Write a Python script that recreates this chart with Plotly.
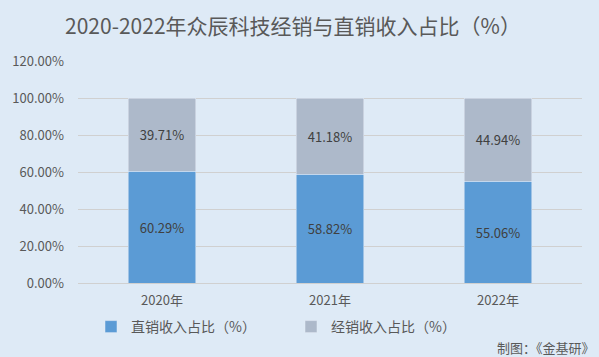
import plotly.graph_objects as go

years = ["2020年", "2021年", "2022年"]
direct = [60.29, 58.82, 55.06]
dealer = [39.71, 41.18, 44.94]
tick_vals = [0, 20, 40, 60, 80, 100, 120]
tick_text = ["0.00%", "20.00%", "40.00%", "60.00%", "80.00%", "100.00%", "120.00%"]

font_family = "Noto Sans CJK SC"
txt = "#595959"

fig = go.Figure()
fig.add_bar(x=years, y=direct, name="直销收入占比（%）", marker_color="#5b9bd5",
            text=[f"{v:.2f}%" for v in direct], textposition="inside", insidetextanchor="middle",
            textfont=dict(color="#404040", size=13))
fig.add_bar(x=years, y=dealer, name="经销收入占比（%）", marker_color="#adb9ca",
            text=[f"{v:.2f}%" for v in dealer], textposition="inside", insidetextanchor="middle",
            textfont=dict(color="#404040", size=13))

fig.update_layout(
    barmode="stack", bargap=0.6,
    width=599, height=357,
    margin=dict(l=78, r=17, t=61, b=74, autoexpand=False),
    paper_bgcolor="#deeaf6", plot_bgcolor="#deeaf6",
    font=dict(family=font_family, color=txt, size=12),
    title=dict(text="2020-2022年众辰科技经销与直销收入占比（%）", x=293 / 599, xanchor="center",
               xref="container", yref="container",
               y=1 - 27 / 357, yanchor="middle", font=dict(size=21, color=txt)),
    showlegend=True,
    legend=dict(orientation="h", xref="container", yref="container",
                x=91 / 599, xanchor="left", y=1 - 327 / 357, yanchor="middle",
                font=dict(size=14, color=txt), bgcolor="rgba(0,0,0,0)",
                itemwidth=30, entrywidth=155, entrywidthmode="pixels",
                traceorder="normal"),
    yaxis=dict(range=[0, 120], tickvals=tick_vals, ticktext=tick_text, showgrid=True,
               gridcolor="#d0d0d0", zeroline=False, ticks="", ticklabelstandoff=13,
               tickfont=dict(size=13, color=txt)),
    xaxis=dict(showline=True, linecolor="#d0d0d0", ticks="", ticklabelstandoff=5,
               tickfont=dict(size=13, color=txt)),
    uniformtext=dict(mode="show", minsize=12),
)
fig.add_annotation(text="制图：《金基研》", xref="paper", yref="paper",
                   x=(597 - 78) / 504, y=(283 - 347) / 222,
                   xanchor="right", yanchor="middle", showarrow=False,
                   font=dict(size=13, color=txt))
fig.write_html("out.html", config={"displayModeBar": False},
               post_script="document.body.style.margin='0px';")
